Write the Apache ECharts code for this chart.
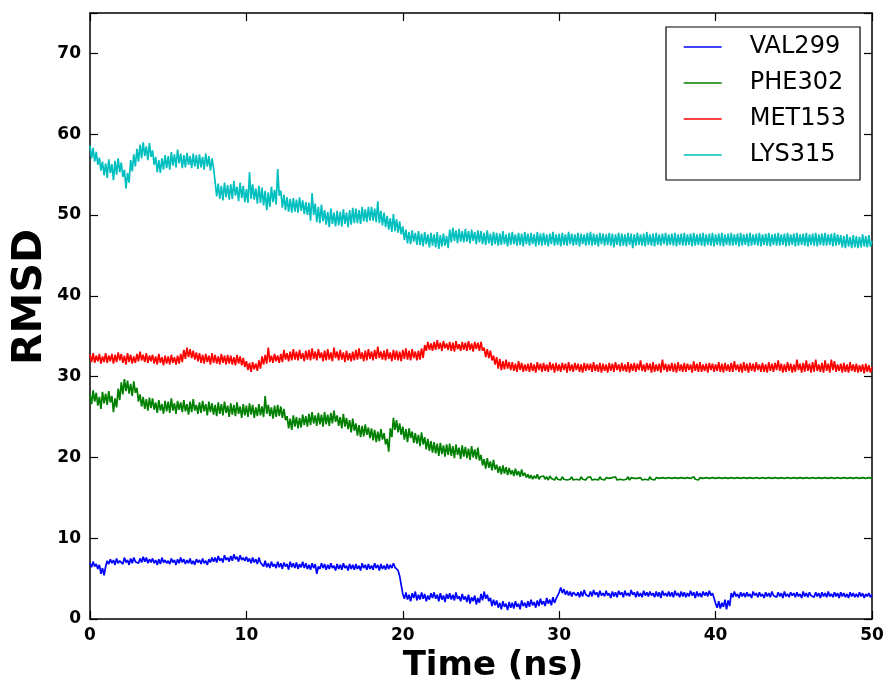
<!DOCTYPE html>
<html>
<head>
<meta charset="utf-8">
<script src="https://cdn.jsdelivr.net/npm/echarts@6/dist/echarts.min.js"></script>
<style>html,body{margin:0;padding:0;background:#fff}#chart{width:889px;height:691px}</style>
</head>
<body>
<div id="chart"></div>
<script>
// Sampling grid: one frame every 0.1 ns from 0 to 50 ns
const timeStepNs = 0.1;
const seriesNames = ['VAL299', 'PHE302', 'MET153', 'LYS315'];
const xTicks = [0, 10, 20, 30, 40, 50];
const yTicks = [0, 10, 20, 30, 40, 50, 60, 70];
const xTitle = 'Time (ns)';
const yTitle = 'RMSD';

const val299 = [
6.9,6.4,7.1,6.5,6.8,6.2,6.7,5.6,6.3,5.4, 6.5,7.2,6.8,7.4,6.9,7.3,6.7,7.5,6.9,7.2,
7.4,6.8,7.6,7.0,7.3,6.7,7.5,6.9,7.6,7.1, 7.3,6.9,7.5,7.0,7.7,7.1,7.6,6.9,7.4,7.0,
7.5,6.9,7.3,6.7,7.4,6.8,7.6,7.0,7.3,6.9, 7.2,6.8,7.5,7.0,7.3,6.7,7.4,6.9,7.6,7.0,
7.4,6.8,7.3,6.9,7.5,6.8,7.2,6.7,7.4,7.0, 7.3,6.8,7.5,6.9,7.2,6.7,7.4,7.0,7.6,7.1,
7.6,7.0,7.8,7.2,7.5,7.0,7.9,7.3,7.6,7.1, 7.8,7.2,8.0,7.4,7.7,7.1,7.9,7.3,7.6,7.2,
7.7,7.1,7.5,6.9,7.6,7.0,7.4,6.8,7.6,7.0, 7.0,6.5,7.2,6.4,6.9,6.3,7.1,6.5,6.8,6.3,
7.1,6.4,6.9,6.2,7.0,6.5,6.8,6.1,7.1,6.4, 6.9,6.3,7.0,6.2,6.8,6.4,7.1,6.3,6.9,6.2,
6.7,6.1,6.9,6.3,6.8,5.6,6.5,6.2,6.9,6.3, 6.8,6.1,6.7,6.2,6.9,6.3,6.6,6.0,6.8,6.2,
6.7,6.1,6.9,6.3,6.6,6.0,6.8,6.2,6.7,6.1, 6.8,6.2,6.6,6.0,6.9,6.3,6.7,6.1,6.8,6.2,
6.6,6.1,6.9,6.3,6.7,6.0,6.8,6.2,6.6,6.1, 6.8,6.2,6.7,6.3,6.9,6.4,6.6,6.0,5.3,4.2,
3.1,2.5,3.3,2.4,3.0,2.2,3.2,2.6,3.4,2.3, 3.0,2.4,3.3,2.5,3.1,2.2,2.9,2.4,3.2,2.6,
3.3,2.5,3.0,2.2,3.2,2.4,2.9,2.1,3.1,2.5, 3.2,2.4,3.0,2.3,3.3,2.5,2.8,2.2,3.1,2.4,
2.8,2.1,3.0,1.9,2.7,2.2,2.9,1.8,2.6,2.0, 3.1,2.3,3.4,2.5,3.0,2.2,2.6,1.6,2.4,1.7,
2.3,1.4,2.0,1.2,2.2,1.5,1.9,1.1,2.1,1.4, 2.0,1.3,2.2,1.5,1.9,1.2,2.3,1.6,2.0,1.4,
2.2,1.5,2.4,1.7,2.1,1.4,2.3,1.6,2.5,1.8, 2.2,1.6,2.6,1.9,2.4,1.7,2.7,2.0,2.5,2.9,
3.3,3.9,3.2,3.7,3.0,3.5,2.9,3.4,2.8,3.3, 3.5,2.9,3.3,2.7,3.4,2.8,3.6,3.0,3.2,2.8,
3.4,2.8,3.6,3.0,3.3,2.7,3.5,2.9,3.2,2.8, 3.5,2.9,3.2,2.6,3.4,2.8,3.3,2.7,3.5,3.0,
3.3,2.7,3.5,2.9,3.2,2.8,3.6,3.0,3.3,2.7, 3.4,2.8,3.2,2.7,3.5,2.9,3.3,2.8,3.4,2.9,
3.2,2.7,3.4,2.8,3.3,2.6,3.5,2.9,3.2,2.8, 3.4,2.8,3.3,2.7,3.5,2.9,3.2,2.7,3.4,2.8,
3.3,2.7,3.2,2.8,3.5,2.9,3.3,2.6,3.4,2.8, 3.2,2.7,3.4,2.9,3.3,2.8,3.5,2.9,3.2,2.6,
1.9,1.4,2.2,1.3,2.0,1.5,2.4,1.2,2.3,1.6, 3.2,2.7,3.4,2.8,3.1,2.6,3.3,2.8,3.2,2.7,
3.3,2.8,3.1,2.6,3.4,2.9,3.2,2.7,3.3,2.8, 3.1,2.6,3.3,2.8,3.2,2.7,3.4,2.9,3.1,2.7,
3.3,2.8,3.2,2.6,3.4,2.8,3.1,2.7,3.3,2.9, 3.2,2.7,3.3,2.8,3.1,2.6,3.4,2.8,3.2,2.7,
3.3,2.9,3.1,2.7,3.3,2.8,3.2,2.6,3.3,2.8, 3.2,2.7,3.4,2.8,3.1,2.7,3.3,2.8,3.2,2.6,
3.3,2.8,3.2,2.7,3.1,2.6,3.3,2.8,3.2,2.7, 3.1,2.7,3.3,2.8,3.2,2.6,3.1,2.8,3.2,2.7,
3.0
];

const phe302 = [
27.8,26.6,28.3,26.9,28.0,26.4,27.5,26.0,28.1,26.7, 27.9,26.5,28.2,26.8,27.6,25.6,27.3,26.2,28.5,27.1,
29.3,27.8,29.7,28.2,29.5,27.9,29.1,27.6,29.4,28.0, 28.6,26.9,27.8,26.3,27.5,26.0,27.2,25.8,27.4,26.1,
27.3,25.9,26.8,25.5,27.1,25.8,26.6,25.4,27.0,25.7, 26.9,25.5,27.3,25.8,26.7,25.4,27.0,25.9,26.8,25.6,
27.1,25.7,26.6,25.3,26.9,25.6,27.2,25.8,26.5,25.4, 26.8,25.5,27.0,25.7,26.6,25.2,26.9,25.6,26.7,25.3,
26.5,25.1,26.8,25.4,26.6,25.2,26.9,25.5,26.4,25.0, 26.7,25.3,26.5,25.1,26.8,25.4,26.3,24.9,26.6,25.2,
26.4,25.0,26.7,25.3,26.5,24.9,26.2,25.1,26.6,25.2, 26.3,25.0,27.6,25.4,26.5,25.1,26.2,24.8,26.4,25.0,
26.5,25.1,26.3,24.9,26.0,24.6,25.1,23.6,24.8,23.4, 25.2,23.8,25.0,23.6,24.9,23.7,25.3,24.0,25.1,23.8,
25.4,24.0,25.6,24.2,25.2,23.9,25.5,24.1,25.3,23.8, 25.6,24.1,25.3,23.9,25.5,24.2,25.8,24.4,25.2,23.9,
25.0,23.6,25.4,23.8,24.9,23.5,24.6,23.1,24.8,23.3, 24.2,22.7,24.0,22.5,23.9,22.6,24.1,22.8,23.7,22.4,
23.6,22.1,23.4,21.9,23.2,22.0,23.5,22.2,23.0,21.6, 22.3,20.7,23.6,22.5,24.9,23.4,24.6,23.1,24.2,22.8,
23.8,22.2,23.5,21.9,23.6,22.4,23.2,21.8,23.0,21.7, 22.8,21.4,23.1,21.6,22.5,21.0,22.3,20.8,22.0,20.6,
21.9,20.5,21.7,20.2,21.8,20.4,21.5,20.1,21.6,20.3, 21.7,20.2,21.4,19.9,21.6,20.3,21.2,19.8,21.5,20.1,
21.3,19.9,21.1,19.7,21.4,20.0,21.0,19.8,21.2,19.6, 20.3,19.0,19.8,18.6,19.9,18.7,19.5,18.4,19.7,18.5,
19.1,18.1,18.9,17.9,19.0,18.0,18.8,17.8,18.7,17.9, 18.4,17.7,18.6,17.8,18.3,17.6,18.5,17.7,18.1,17.5,
17.9,17.4,17.8,17.3,17.7,17.4,17.9,17.3,17.6,17.4, 17.7,17.3,17.6,17.2,17.7,17.4,17.5,17.2,17.6,17.3,
17.5,17.2,17.6,17.3,17.5,17.2,17.4,17.3,17.6,17.2, 17.4,17.3,17.5,17.2,17.6,17.3,17.4,17.2,17.5,17.3,
17.6,17.2,17.4,17.3,17.5,17.2,17.6,17.3,17.4,17.2, 17.5,17.3,17.4,17.2,17.5,17.3,17.6,17.2,17.4,17.3,
17.5,17.2,17.4,17.3,17.6,17.2,17.5,17.3,17.4,17.2, 17.4,17.3,17.5,17.2,17.4,17.3,17.5,17.2,17.6,17.3,
17.4,17.2,17.5,17.3,17.4,17.2,17.5,17.3,17.4,17.2, 17.5,17.3,17.4,17.2,17.5,17.3,17.4,17.2,17.5,17.3,
17.4,17.2,17.5,17.3,17.4,17.2,17.6,17.3,17.4,17.2, 17.5,17.3,17.4,17.2,17.5,17.3,17.4,17.2,17.5,17.3,
17.4,17.2,17.5,17.3,17.4,17.2,17.5,17.3,17.4,17.2, 17.5,17.3,17.4,17.2,17.5,17.3,17.4,17.2,17.5,17.3,
17.4,17.2,17.5,17.3,17.4,17.2,17.5,17.3,17.4,17.2, 17.5,17.3,17.4,17.2,17.5,17.3,17.4,17.2,17.5,17.3,
17.4,17.2,17.5,17.3,17.4,17.2,17.5,17.3,17.4,17.2, 17.5,17.3,17.4,17.2,17.5,17.3,17.4,17.2,17.5,17.3,
17.4,17.2,17.5,17.3,17.4,17.2,17.5,17.3,17.4,17.2, 17.5,17.3,17.4,17.2,17.5,17.3,17.4,17.2,17.5,17.3,
17.4,17.2,17.5,17.3,17.4,17.2,17.5,17.3,17.4,17.2, 17.5,17.3,17.4,17.2,17.5,17.3,17.4,17.2,17.5,17.3,
17.4
];

const met153 = [
32.7,31.8,32.9,31.7,32.6,31.9,32.8,31.6,32.5,31.8, 32.9,31.7,32.6,31.9,32.8,31.6,32.7,31.8,33.0,32.0,
32.8,31.7,32.6,31.5,32.9,31.8,32.7,31.6,32.5,31.7, 32.8,31.9,33.1,32.0,32.7,31.8,32.9,31.7,32.6,31.9,
32.7,31.6,32.5,31.5,32.8,31.7,32.4,31.4,32.6,31.6, 32.5,31.5,32.7,31.7,32.4,31.5,32.6,31.6,32.8,31.8,
33.3,32.2,33.6,32.4,33.4,32.3,33.2,32.1,33.0,31.9, 32.9,31.7,32.7,31.6,32.8,31.8,32.6,31.5,32.9,31.7,
32.7,31.6,32.5,31.5,32.8,31.7,32.6,31.5,32.7,31.6, 32.6,31.5,32.4,31.4,32.7,31.6,32.5,31.4,32.3,31.2,
31.9,30.8,31.7,30.6,31.8,30.9,31.6,30.7,32.0,31.0, 32.5,31.5,32.7,31.6,33.6,31.8,32.6,31.7,32.8,31.9,
32.6,31.7,32.8,31.8,33.3,32.1,32.9,31.9,33.1,32.0, 33.4,32.1,33.1,32.0,33.3,32.2,32.9,31.9,33.2,32.1,
33.3,32.0,33.5,32.2,33.1,32.0,33.4,32.3,33.0,31.9, 33.2,32.0,33.4,32.1,33.0,31.9,33.6,32.3,33.1,32.0,
33.3,32.1,33.0,31.8,33.2,32.0,32.9,31.9,33.1,32.0, 33.3,32.1,33.5,32.2,33.0,31.9,33.2,32.0,33.4,32.2,
33.1,32.0,33.3,32.2,33.7,32.3,33.1,32.1,33.2,32.0, 33.4,32.2,33.0,31.9,33.3,32.1,33.2,32.0,33.1,31.9,
33.3,32.2,33.5,32.1,33.2,32.0,33.4,32.3,33.1,32.0, 33.2,32.1,33.5,32.3,33.9,33.2,34.3,33.3,34.1,33.2,
34.3,33.3,34.5,33.4,34.2,33.2,34.4,33.5,34.1,33.3, 34.3,33.2,34.2,33.1,34.4,33.4,34.0,33.2,34.3,33.3,
34.2,33.2,34.4,33.3,34.1,33.1,34.3,33.4,34.2,33.2, 34.3,33.2,33.6,32.4,33.4,32.3,33.2,32.0,32.6,31.5,
32.4,31.0,32.2,30.8,31.9,30.9,32.1,31.0,31.8,30.8, 31.8,30.7,31.6,30.6,31.9,30.8,31.7,30.6,31.5,30.7,
31.6,30.6,31.7,30.7,31.5,30.5,31.8,30.8,31.6,30.6, 31.7,30.7,31.5,30.6,31.8,30.8,31.6,30.5,31.7,30.7,
31.5,30.6,31.7,30.8,31.6,30.5,31.8,30.7,31.5,30.6, 31.7,30.8,31.6,30.6,31.5,30.5,31.7,30.7,31.6,30.8,
31.6,30.6,31.8,30.7,31.5,30.6,31.7,30.5,31.6,30.7, 31.5,30.5,31.7,30.7,31.6,30.6,31.8,30.8,31.5,30.6,
31.7,30.7,31.5,30.6,31.8,30.5,31.6,30.7,31.7,30.6, 31.6,30.8,32.0,30.7,31.5,30.6,31.7,30.8,31.6,30.5,
31.8,30.6,31.5,30.7,31.6,30.5,32.1,30.8,31.6,30.6, 31.5,30.7,31.7,30.6,31.6,30.5,31.8,30.7,31.5,30.6,
31.7,30.6,31.6,30.8,31.5,30.5,31.9,30.7,31.6,30.6, 31.8,30.6,31.5,30.7,31.6,30.5,31.7,30.8,31.6,30.6,
31.5,30.7,31.8,30.6,31.6,30.5,31.7,30.7,31.5,30.6, 31.7,30.6,31.9,30.8,31.5,30.6,31.6,30.5,31.8,30.7,
31.6,30.5,31.7,30.7,31.6,30.6,31.8,30.8,31.5,30.6, 31.7,30.6,31.5,30.5,31.8,30.7,31.6,30.6,31.7,30.8,
32.0,30.7,31.6,30.5,31.5,30.6,31.8,30.7,31.6,30.5, 31.5,30.6,32.1,30.8,31.6,30.5,31.7,30.6,32.0,30.7,
31.6,30.5,31.8,30.6,32.1,30.7,31.5,30.6,31.7,30.5, 32.0,30.7,31.6,30.5,32.1,30.8,31.9,30.6,31.5,30.7,
31.6,30.5,31.7,30.6,31.5,30.5,31.8,30.7,31.5,30.6, 31.6,30.5,31.4,30.6,31.5,30.4,31.6,30.6,31.4,30.5,
31.2
];

const lys315 = [
58.6,57.0,58.3,56.6,57.8,56.2,57.1,55.5,56.6,54.9, 56.4,54.6,56.9,55.2,56.3,54.3,56.7,55.0,57.0,55.3,
56.5,54.7,55.6,53.3,55.2,54.0,56.8,55.4,57.5,56.0, 58.2,56.6,58.7,57.0,59.0,57.3,58.5,56.8,58.9,57.2,
58.0,56.2,57.2,55.3,56.8,55.2,57.0,55.6,57.4,55.8, 57.3,55.6,57.8,56.1,57.5,55.9,58.1,56.4,57.6,55.8,
57.4,55.9,57.7,56.2,57.3,55.8,57.6,56.0,57.4,55.7, 57.5,55.9,57.2,55.6,57.6,56.0,57.3,55.5,57.0,55.8,
54.1,52.3,53.9,52.0,53.6,51.8,54.0,52.2,53.7,51.9, 53.8,52.0,54.2,52.4,53.5,51.7,54.0,52.1,53.6,51.6,
53.2,51.5,55.3,52.0,53.8,51.9,53.3,51.4,53.6,51.5, 53.4,51.2,53.0,50.6,52.8,51.0,53.5,51.6,53.1,51.3,
55.7,52.4,53.0,50.9,52.5,50.6,52.2,50.4,52.0,50.3, 52.1,50.4,51.9,50.3,52.2,50.5,51.8,50.1,51.6,50.0,
51.5,49.3,52.7,50.0,51.4,49.1,51.0,49.0,51.3,49.2, 50.6,48.8,50.4,48.5,50.8,48.9,50.3,48.6,50.5,48.7,
50.4,48.6,50.7,48.9,50.3,48.5,50.6,48.8,50.9,49.0, 50.8,49.0,50.6,48.9,51.0,49.2,50.7,49.1,51.0,49.3,
51.0,49.3,50.8,49.1,51.7,49.0,50.5,48.7,50.3,48.5, 49.9,48.2,49.6,47.9,50.1,48.0,49.5,47.8,49.2,47.6,
48.6,46.9,48.2,46.5,47.9,46.4,48.1,46.7,47.8,46.3, 48.0,46.3,47.7,46.1,47.9,46.4,47.6,46.0,47.8,46.2,
47.6,46.0,47.9,45.8,47.5,46.1,47.7,46.2,47.4,45.9, 48.2,46.6,48.4,46.8,48.1,46.5,48.3,46.7,48.0,46.6,
48.3,46.7,48.0,46.5,48.2,46.8,47.9,46.4,48.1,46.6, 48.0,46.4,47.8,46.3,48.1,46.5,47.7,46.2,47.9,46.4,
47.8,46.2,47.7,46.3,48.0,46.4,47.6,46.1,47.8,46.3, 47.9,46.4,47.6,46.2,47.8,46.3,47.7,46.1,47.9,46.4,
47.7,46.2,47.8,46.4,47.6,46.1,47.9,46.3,47.7,46.2, 47.8,46.3,47.6,46.1,47.7,46.4,47.9,46.2,47.6,46.3,
47.7,46.1,47.8,46.3,47.6,46.2,47.9,46.4,47.7,46.2, 47.6,46.3,47.8,46.1,47.7,46.4,47.6,46.2,47.8,46.3,
47.9,46.2,47.7,46.3,47.6,46.1,47.8,46.4,47.7,46.2, 47.6,46.3,47.8,46.2,47.7,46.0,47.6,46.3,47.8,46.1,
47.7,46.2,47.6,46.1,47.8,46.3,47.7,45.9,47.6,46.2, 47.8,46.3,47.6,46.2,47.7,46.1,47.9,46.3,47.6,46.2,
47.7,46.1,47.8,46.3,47.6,46.2,47.7,46.4,47.8,46.2, 47.6,46.3,47.7,46.2,47.8,46.1,47.6,46.3,47.7,46.2,
47.8,46.2,47.6,46.3,47.7,46.1,47.8,46.2,47.6,46.3, 47.7,46.2,47.8,46.1,47.6,46.3,47.7,46.2,47.8,46.1,
47.6,46.3,47.7,46.2,47.8,46.1,47.6,46.3,47.7,46.2, 47.8,46.2,47.6,46.3,47.7,46.1,47.8,46.2,47.6,46.3,
47.7,46.1,47.8,46.2,47.6,46.3,47.7,46.2,47.8,46.1, 47.6,46.3,47.7,46.2,47.8,46.1,47.6,46.3,47.7,46.2,
47.8,46.2,47.6,46.3,47.7,46.1,47.8,46.2,47.6,46.3, 47.7,46.1,47.8,46.2,47.6,46.3,47.7,46.2,47.8,46.1,
47.6,46.3,47.7,46.2,47.8,46.1,47.6,46.3,47.7,46.2, 47.8,46.2,47.6,46.3,47.7,46.1,47.8,46.2,47.6,46.3,
47.5,46.0,47.4,45.9,47.6,46.1,47.3,45.9,47.5,46.0, 47.4,45.9,47.3,46.0,47.6,46.1,47.4,46.0,47.5,46.1,
46.8
];

const seriesColors = ['#0000ff', '#008000', '#ff0000', '#00bfbf'];
const seriesValues = [val299, phe302, met153, lys315];

function withTime(values) {
  return values.map((v, i) => [+(i * timeStepNs).toFixed(1), v]);
}

const chart = echarts.init(document.getElementById('chart'), null, {renderer: 'canvas'});
const fontFam = 'DejaVu Sans';
const axisLine = {show: true, onZero: false, lineStyle: {color: '#000', width: 1.5}};
const tick = {show: true, inside: true, length: 8, lineStyle: {color: '#000', width: 1.2}};

chart.setOption({
  animation: false,
  backgroundColor: '#fff',
  textStyle: {fontFamily: fontFam},
  grid: {left: 90, right: 17, top: 13, bottom: 72, containLabel: false, outerBoundsMode: 'none'},
  legend: {
    data: seriesNames,
    orient: 'vertical',
    left: 666, top: 27,
    padding: [8, 14, 13, 17],
    itemGap: 12,
    itemWidth: 38,
    itemHeight: 14,
    itemStyle: {opacity: 0},
    lineStyle: {width: 1.4},
    borderColor: '#000',
    borderWidth: 1.2,
    backgroundColor: '#fff',
    textStyle: {fontFamily: fontFam, fontSize: 24, color: '#000', lineHeight: 24, padding: [0, 0, 0, 23]}
  },
  graphic: [
    {type: 'text', x: 493, y: 666, z: 10,
     style: {text: xTitle, fontFamily: fontFam, fontWeight: 'bold', fontSize: 34, fill: '#000',
             align: 'center', verticalAlign: 'middle'}},
    {type: 'text', x: 30, y: 297, rotation: Math.PI / 2, z: 10,
     style: {text: yTitle, fontFamily: fontFam, fontWeight: 'bold', fontSize: 41, fill: '#000',
             align: 'center', verticalAlign: 'middle'}}
  ],
  xAxis: [
    {type: 'value', min: 0, max: 50, interval: 10, position: 'bottom',
     axisLine: axisLine, axisTick: tick, splitLine: {show: false},
     axisLabel: {fontFamily: fontFam, fontWeight: 'bold', fontSize: 17, color: '#000', margin: 8,
       formatter: v => xTicks.includes(v) ? String(v) : ''}},
    {type: 'value', min: 0, max: 50, interval: 10, position: 'top',
     axisLine: axisLine, axisTick: tick, splitLine: {show: false}, axisLabel: {show: false}}
  ],
  yAxis: [
    {type: 'value', min: 0, max: 75, interval: 10, position: 'left',
     axisLine: axisLine, axisTick: tick, splitLine: {show: false},
     axisLabel: {fontFamily: fontFam, fontWeight: 'bold', fontSize: 17, color: '#000', margin: 9,
       formatter: v => yTicks.includes(v) ? String(v) : ''}},
    {type: 'value', min: 0, max: 75, interval: 10, position: 'right',
     axisLine: axisLine, axisTick: tick, splitLine: {show: false}, axisLabel: {show: false}}
  ],
  series: seriesNames.map((name, k) => ({
    name: name,
    type: 'line',
    xAxisIndex: 0, yAxisIndex: 0,
    data: withTime(seriesValues[k]),
    symbol: 'none',
    showSymbol: false,
    color: seriesColors[k],
    lineStyle: {color: seriesColors[k], width: 1.7},
    z: 2 + k
  }))
});
</script>
</body>
</html>
